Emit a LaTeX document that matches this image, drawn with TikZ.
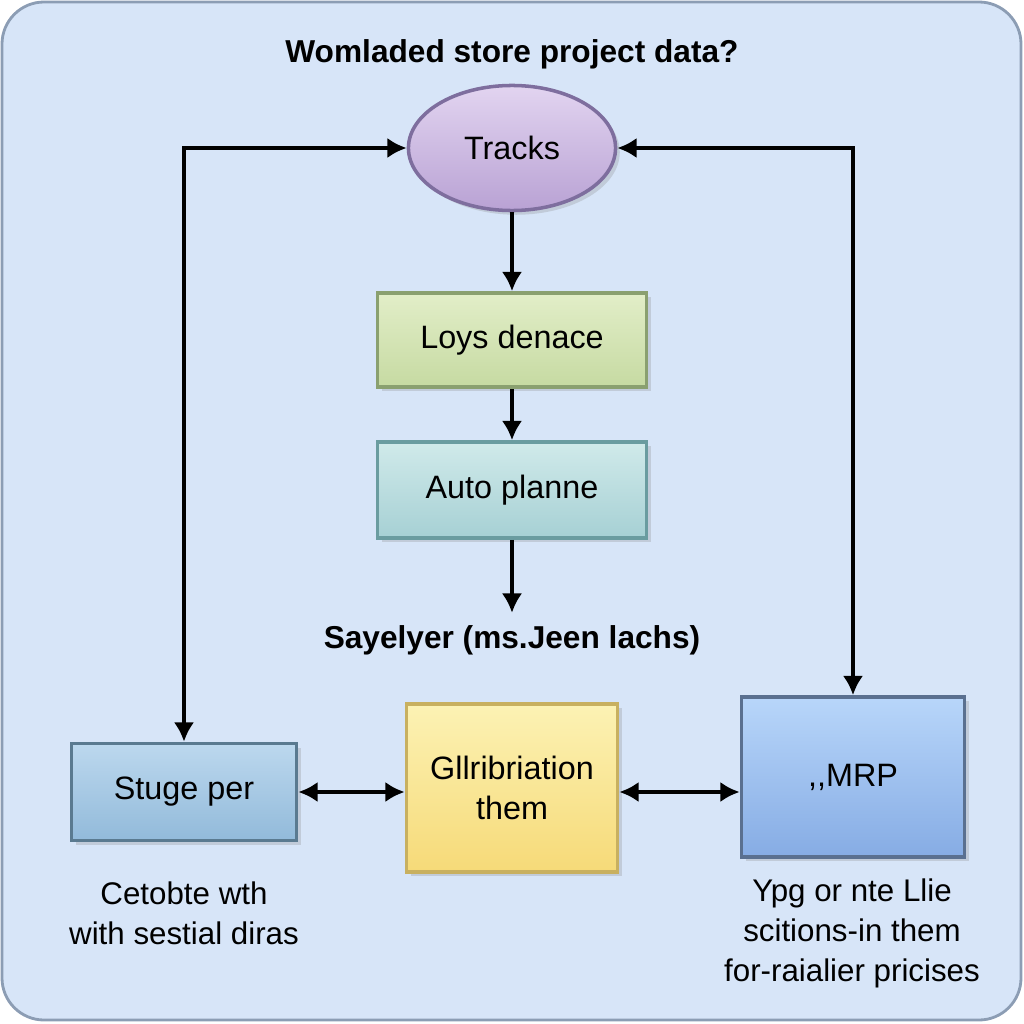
\documentclass[tikz,border=0pt]{standalone}
\usepackage{fontspec}
\setmainfont{Liberation Sans}
\usetikzlibrary{shapes.geometric,arrows.meta,positioning,shadows}

\definecolor{bgfill}{HTML}{D7E5F8}
\definecolor{bgline}{HTML}{8C9DB4}
\definecolor{lavtop}{HTML}{E2D4F0}
\definecolor{lavbot}{HTML}{B9A2D4}
\definecolor{lavline}{HTML}{7E6E9E}
\definecolor{greentop}{HTML}{E2EEC8}
\definecolor{greenbot}{HTML}{C6DAA2}
\definecolor{greenline}{HTML}{8AA070}
\definecolor{tealtop}{HTML}{D0EAEA}
\definecolor{tealbot}{HTML}{A6D0D4}
\definecolor{tealline}{HTML}{6A9CA0}
\definecolor{steeltop}{HTML}{BCD8EE}
\definecolor{steelbot}{HTML}{92BADA}
\definecolor{steelline}{HTML}{5A7A90}
\definecolor{yeltop}{HTML}{FCF2B4}
\definecolor{yelbot}{HTML}{F6DA78}
\definecolor{yelline}{HTML}{C8B060}
\definecolor{bluetop}{HTML}{B8D6FA}
\definecolor{bluebot}{HTML}{86ACE4}
\definecolor{blueline}{HTML}{5A7090}

\begin{document}
\begin{tikzpicture}[
    x=0.01cm, y=-0.01cm,
    every node/.style={font=\fontsize{9.2}{11.4}\selectfont},
    block/.style={rectangle, draw, line width=1pt, align=center, drop shadow={shadow xshift=1.2pt, shadow yshift=-1.2pt, opacity=0.25}},
    heading/.style={font=\fontsize{9}{11}\selectfont\bfseries},
    note/.style={align=center, font=\fontsize{8.9}{11.4}\selectfont},
    flow/.style={line width=1.2pt, -{Latex[length=5.5pt,width=5.8pt]}},
    twoway/.style={line width=1.2pt, {Latex[length=5.5pt,width=5.8pt]}-{Latex[length=5.5pt,width=5.8pt]}}
]

\useasboundingbox (0,0) rectangle (1024,1024);
\draw[bgline, fill=bgfill, line width=0.8pt, rounded corners=0.42cm] (2,2) rectangle (1021,1020);

\node[heading] (title) at (512,54) {Womladed store project data?};

\node[ellipse, draw=lavline, line width=1pt, top color=lavtop, bottom color=lavbot, minimum width=2.07cm, minimum height=1.25cm, drop shadow={shadow xshift=1.2pt, shadow yshift=-1.2pt, opacity=0.25}] (tracks) at (512,148) {Tracks};
\node[block, draw=greenline, top color=greentop, bottom color=greenbot, minimum width=2.69cm, minimum height=0.94cm] (loys) at (512,340) {Loys denace};
\node[block, draw=tealline, top color=tealtop, bottom color=tealbot, minimum width=2.69cm, minimum height=0.96cm] (auto) at (512,490) {Auto planne};
\node[heading] (sayelyer) at (512,640) {Sayelyer (ms.Jeen lachs)};

\node[block, draw=steelline, top color=steeltop, bottom color=steelbot, minimum width=2.25cm, minimum height=0.97cm] (stuge) at (184,792) {Stuge per};
\node[block, draw=yelline, top color=yeltop, bottom color=yelbot, minimum width=2.11cm, minimum height=1.68cm] (glli) at (512,788) {Gllribriation\\them};
\node[block, draw=blueline, top color=bluetop, bottom color=bluebot, minimum width=2.23cm, minimum height=1.60cm] (mrp) at (853,777) {{,}{,}MRP};

\node[note] (leftnote) at (184,913) {Cetobte wth\\with sestial diras};
\node[note] (rightnote) at (852,933) {Ypg or nte Llie\\scitions-in them\\for-raialier pricises};

% main column
\draw[flow] (tracks) -- (loys);
\draw[flow] (loys) -- (auto);
\draw[flow] (auto) -- (sayelyer);

% side loops
\draw[twoway] (tracks.west) -| (stuge.north);
\draw[twoway] (tracks.east) -| (mrp.north);

% bottom row
\draw[twoway] (stuge.east) -- (stuge.east -| glli.west);
\draw[twoway] (glli.east |- stuge.east) -- (mrp.west |- stuge.east);

\end{tikzpicture}
\end{document}
